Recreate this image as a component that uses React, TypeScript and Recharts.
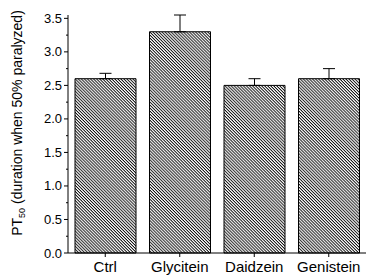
import React from 'react';
import { BarChart, Bar, XAxis, YAxis, ErrorBar } from 'recharts';

const groups = ['Ctrl', 'Glycitein', 'Daidzein', 'Genistein'];
const pt50 = [2.6, 3.3, 2.5, 2.6];
const sem = [0.08, 0.25, 0.1, 0.15];
const yTicks = [0, 0.25, 0.5, 0.75, 1.0, 1.25, 1.5, 1.75, 2.0, 2.25, 2.5, 2.75, 3.0, 3.25, 3.5];
const xMinorTicks = [1, 2, 3];

const data = groups.map((g, i) => ({ name: g, value: pt50[i], err: [0, sem[i]] }));

const font = 'Liberation Sans, Arial, sans-serif';

const YTick = (props: any) => {
  const { x, y, payload } = props;
  const v: number = payload.value;
  const major = Math.abs(v * 2 - Math.round(v * 2)) < 1e-6;
  return (
    <g>
      <line x1={x - (major ? 4 : 2)} y1={y} x2={x} y2={y} stroke="#000" strokeWidth={1} />
      {major && (
        <text x={x - 6} y={y} dy={4.5} textAnchor="end" fontFamily={font} fontSize={13} fill="#000">
          {v.toFixed(1)}
        </text>
      )}
    </g>
  );
};

const YLabel = () => (
  <text
    transform="translate(22, 123) rotate(-90)"
    textAnchor="middle"
    fontFamily={font}
    fontSize={14}
    fill="#000"
  >
    PT
    <tspan fontSize={9} dy={3}>50</tspan>
    <tspan dy={-3}> (duration when 50% paralyzed)</tspan>
  </text>
);

export default function App() {
  return (
    <div style={{ position: 'absolute', left: 0, top: 0, width: 366, height: 278, background: '#fff' }}>
      <BarChart
        width={366}
        height={278}
        data={data}
        margin={{ top: 15, right: 0, bottom: 0, left: 0 }}
        barCategoryGap={7}
      >
        <defs>
          <pattern id="hatch" width="2.15" height="2.15" patternUnits="userSpaceOnUse" patternTransform="rotate(45)">
            <rect width="2.15" height="2.15" fill="#fff" />
            <line x1="0" y1="0.5" x2="2.15" y2="0.5" stroke="#000" strokeWidth={0.9} />
          </pattern>
        </defs>
        {/* minor ticks between the categories */}
        <XAxis
          xAxisId="minor"
          type="number"
          domain={[0, 4]}
          ticks={xMinorTicks}
          height={0}
          axisLine={false}
          tick={false}
          tickSize={2}
          tickLine={{ stroke: '#000' }}
        />
        <XAxis
          dataKey="name"
          stroke="#000"
          height={25}
          tickLine={{ stroke: '#000' }}
          tickSize={4}
          tickMargin={4}
          tick={{ fill: '#000', fontFamily: font, fontSize: 15 }}
          interval={0}
        />
        <YAxis
          domain={[0, 3.5]}
          ticks={yTicks}
          interval={0}
          stroke="#000"
          width={68}
          tickSize={0}
          tickMargin={0}
          tickLine={false}
          tick={<YTick />}
        />
        <Bar dataKey="value" fill="url(#hatch)" stroke="#000" strokeWidth={1} isAnimationActive={false}>
          <ErrorBar dataKey="err" width={6} stroke="#000" strokeWidth={1} direction="y" />
        </Bar>
        <YLabel />
      </BarChart>
    </div>
  );
}
